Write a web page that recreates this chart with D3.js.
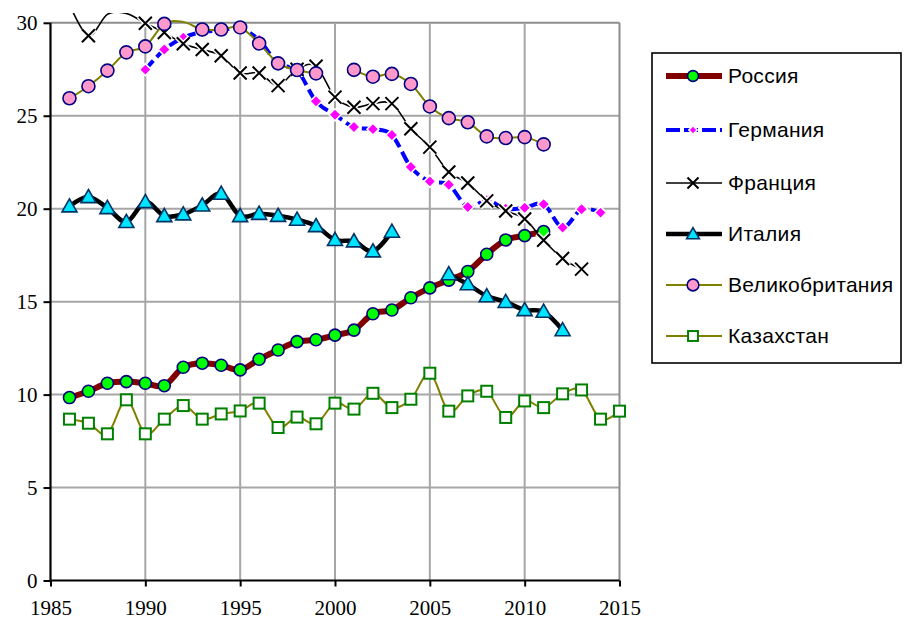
<!DOCTYPE html>
<html><head><meta charset="utf-8">
<script src="https://cdn.jsdelivr.net/npm/d3@7"></script>
<style>body{margin:0;background:#fff}svg{display:block}</style>
</head><body>
<svg id="c" width="904" height="622"></svg>
<script>
const years = [1986,1987,1988,1989,1990,1991,1992,1993,1994,1995,1996,1997,1998,1999,2000,2001,2002,2003,2004,2005,2006,2007,2008,2009,2010,2011,2012,2013,2014,2015];
const russia = [9.84,10.18,10.61,10.70,10.61,10.48,11.47,11.69,11.58,11.33,11.90,12.40,12.85,12.95,13.20,13.47,14.35,14.55,15.21,15.74,16.16,16.62,17.55,18.32,18.55,18.77,null,null,null,null];
const germany = [null,null,null,null,27.48,28.56,29.2,29.5,29.6,29.7,29.07,27.8,27.45,25.78,25.05,24.39,24.28,23.96,22.24,21.47,21.29,20.09,20.45,20.0,20.05,20.24,18.99,19.97,19.79,null];
const france = [31.0,29.3,30.45,30.5,29.98,29.48,28.87,28.56,28.23,27.3,27.3,26.62,27.5,27.66,26.0,25.46,25.65,25.65,24.3,23.31,21.97,21.38,20.42,19.88,19.45,18.3,17.32,16.75,null,null];
const italy = [20.13,20.63,20.04,19.29,20.36,19.61,19.70,20.18,20.81,19.61,19.73,19.62,19.41,19.07,18.32,18.25,17.71,18.77,null,null,16.48,15.94,15.30,14.99,14.55,14.46,13.47,null,null,null];
const uk = [25.94,26.59,27.43,28.41,28.73,29.94,30.05,29.64,29.64,29.75,28.89,27.82,27.46,27.28,null,27.47,27.1,27.25,26.71,25.5,24.87,24.65,23.89,23.8,23.85,23.46,null,null,null,null];
const kazakhstan = [8.68,8.46,7.89,9.72,7.89,8.68,9.41,8.68,8.96,9.12,9.54,8.23,8.79,8.43,9.54,9.22,10.07,9.30,9.75,11.15,9.11,9.93,10.18,8.77,9.66,9.30,10.04,10.25,8.68,9.11];
const seriesNames = ["Россия","Германия","Франция","Италия","Великобритания","Казахстан"];
const xTicks = [1985,1990,1995,2000,2005,2010,2015];
const yTicks = [0,5,10,15,20,25,30];

const styles = [
  {data:russia, line:"#800000", w:6, dash:null, marker:"circle", fill:"#00ff00", stroke:"#000080", size:6},
  {data:germany, line:"#0000ff", w:4, dash:"12,5", marker:"diamond", fill:"#ff00ff", stroke:"#ffffff", size:6},
  {data:france, line:"#000000", w:1.6, dash:null, marker:"x", fill:"none", stroke:"#000000", size:6.5},
  {data:italy, line:"#000000", w:4.5, dash:null, marker:"triangle", fill:"#00e5ff", stroke:"#003366", size:7.5},
  {data:uk, line:"#808000", w:2, dash:null, marker:"circle", fill:"#ff99cc", stroke:"#000080", size:6.5},
  {data:kazakhstan, line:"#808000", w:2, dash:null, marker:"square", fill:"#ffffff", stroke:"#008000", size:5.5}
];

const svg = d3.select("#c");
const x = d3.scaleLinear().domain([1985,2015]).range([50.5,619.5]);
const y = d3.scaleLinear().domain([0,30]).range([580.5,22.8]);

// grid
const g = svg.append("g");
g.selectAll(".hg").data(yTicks.filter(v=>v>0)).join("line")
  .attr("x1",x(1985)).attr("x2",x(2015)).attr("y1",d=>y(d)).attr("y2",d=>y(d))
  .attr("stroke",d=>d===30?"#8c8c8c":"#a6a6a6").attr("stroke-width",2);
g.selectAll(".vg").data(xTicks.filter(v=>v>1985)).join("line")
  .attr("y1",y(0)).attr("y2",y(30)).attr("x1",d=>x(d)).attr("x2",d=>x(d))
  .attr("stroke",d=>d===2015?"#8c8c8c":"#a6a6a6").attr("stroke-width",2);

// axes
const yAxis = d3.axisLeft(y).tickValues(yTicks).tickSize(7).tickPadding(6).tickFormat(d3.format("d"));
const xAxis = d3.axisBottom(x).tickValues(xTicks).tickSize(6).tickPadding(14).tickFormat(d3.format("d"));
const ya = svg.append("g").attr("transform",`translate(${x(1985)},0)`).call(yAxis);
const xa = svg.append("g").attr("transform",`translate(0,${y(0)})`).call(xAxis);
[ya,xa].forEach(a=>{
  a.select(".domain").attr("stroke","#000").attr("stroke-width",2.2);
  a.selectAll(".tick line").attr("stroke","#000").attr("stroke-width",2);
  a.selectAll("text").attr("font-family","'Liberation Serif','Times New Roman',serif").attr("font-size",21).attr("fill","#000");
});
ya.select(".domain").attr("d",`M0,${y(30)}V${y(0)}`);
xa.select(".domain").attr("d",`M${x(1985)},0H${x(2015)}`);

// clip for lines
svg.append("defs").append("clipPath").attr("id","clip").append("rect")
  .attr("x",x(1985)).attr("y",13).attr("width",x(2015)-x(1985)+10).attr("height",y(0)-13);

const line = d3.line().defined(d=>d.v!=null).x(d=>x(d.t)).y(d=>y(d.v)).curve(d3.curveCardinal.tension(0));

function drawMarker(sel, s, cx, cy, scale){
  const r = s.size*(scale||1);
  if(s.marker==="circle"){
    sel.append("circle").attr("cx",cx).attr("cy",cy).attr("r",r).attr("fill",s.fill).attr("stroke",s.stroke).attr("stroke-width",1.6);
  } else if(s.marker==="diamond"){
    sel.append("path").attr("d",`M${cx},${cy-r}L${cx+r},${cy}L${cx},${cy+r}L${cx-r},${cy}Z`).attr("fill",s.fill).attr("stroke",s.stroke).attr("stroke-width",1.5);
  } else if(s.marker==="x"){
    const p = `M${cx-r},${cy-r}L${cx+r},${cy+r}M${cx-r},${cy+r}L${cx+r},${cy-r}`;
    if(scale==null) sel.append("path").attr("d",p).attr("stroke","#fff").attr("stroke-width",5);
    sel.append("path").attr("d",p).attr("stroke","#000").attr("stroke-width",2);
  } else if(s.marker==="triangle"){
    sel.append("path").attr("d",`M${cx},${cy-r}L${cx+r},${cy+r*0.75}L${cx-r},${cy+r*0.75}Z`).attr("fill",s.fill).attr("stroke",s.stroke).attr("stroke-width",1.6);
  } else if(s.marker==="square"){
    sel.append("rect").attr("x",cx-r).attr("y",cy-r).attr("width",2*r).attr("height",2*r).attr("fill",s.fill).attr("stroke",s.stroke).attr("stroke-width",2);
  }
}

styles.forEach(s=>{
  const pts = years.map((t,i)=>({t, v:s.data[i]}));
  const sg = svg.append("g");
  sg.append("path").datum(pts).attr("d",line).attr("fill","none")
    .attr("stroke",s.line).attr("stroke-width",s.w).attr("stroke-dasharray",s.dash)
    .attr("stroke-linejoin","round").attr("clip-path","url(#clip)");
  const mg = sg.append("g");
  pts.filter(d=>d.v!=null && d.v<=30).forEach(d=>drawMarker(mg, s, x(d.t), y(d.v)));
});

// legend
const lg = svg.append("g");
lg.append("rect").attr("x",652).attr("y",53).attr("width",249).attr("height",310)
  .attr("fill","#fff").attr("stroke","#000").attr("stroke-width",1.6);
const legY = [76,130,183,234,285,336];
seriesNames.forEach((n,i)=>{
  const s = styles[i];
  const yy = legY[i];
  lg.append("line").attr("x1",666).attr("x2",722).attr("y1",yy).attr("y2",yy)
    .attr("stroke",s.line).attr("stroke-width",s.w).attr("stroke-dasharray",s.dash?"14,4":null);
  const ms = s.marker==="diamond"?0.7:(s.marker==="x"?0.85:(s.marker==="triangle"?0.85:0.9));
  drawMarker(lg, s, 693, yy, ms);
  lg.append("text").attr("x",728).attr("y",yy+7).text(n)
    .attr("font-family","'Liberation Sans',Arial,sans-serif").attr("font-size",21)
    .attr("letter-spacing",0.3).attr("fill","#000");
});
</script>
</body></html>
